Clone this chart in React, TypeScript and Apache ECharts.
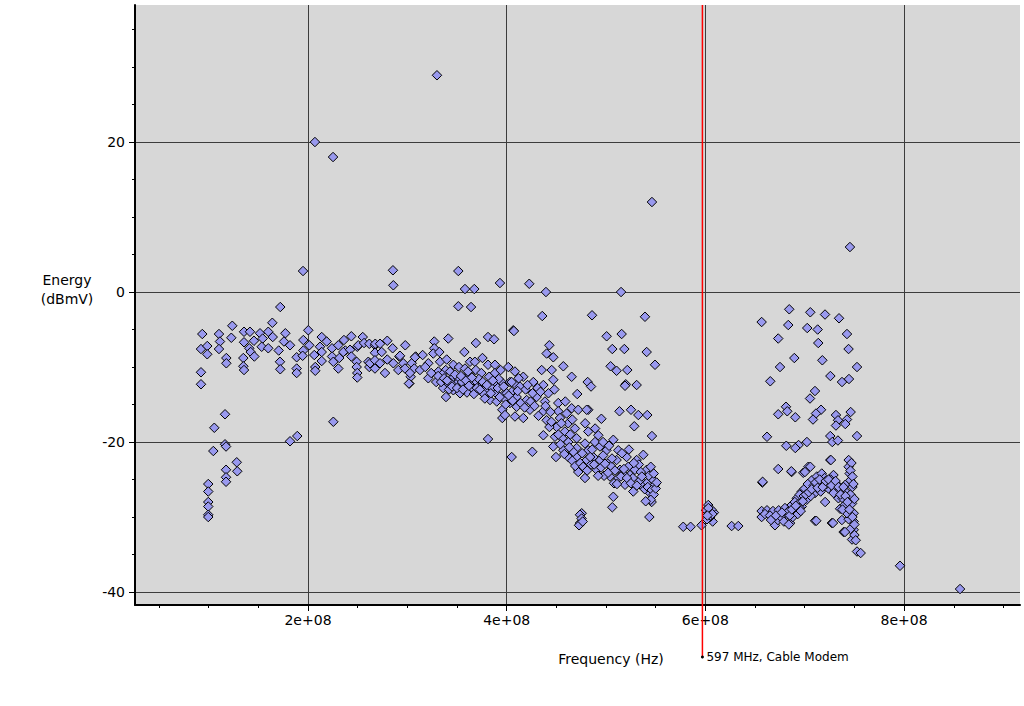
import { useEffect, useRef } from 'react';
import * as echarts from 'echarts';

// Axis ranges (Hz / dBmV)
const X_MIN = 0.2587e8;
const X_MAX = 9.1666e8;
const Y_MIN = -41.73;
const Y_MAX = 38.27;

const xMajorTicks = [2e8, 4e8, 6e8, 8e8];
const xTickLabels = ['2e+08', '4e+08', '6e+08', '8e+08'];
const xMinorTicks = [0.5e8, 1e8, 1.5e8, 2.5e8, 3e8, 3.5e8, 4.5e8, 5e8, 5.5e8, 6.5e8, 7e8, 7.5e8, 8.5e8, 9e8];
const yMajorTicks = [-40, -20, 0, 20];
const yMinorTicks = [-35, -30, -25, -15, -10, -5, 5, 10, 15, 25, 30, 35];

const markerFreqMHz = 597;
const markerLabel = '597 MHz, Cable Modem';
const xTitle = 'Frequency (Hz)';
const yTitle = ['Energy', '(dBmV)'];

// [frequency MHz, energy dBmV]
const lowBand: [number, number][] = [
  [93.6, -5.6], [92.3, -7.6], [98.6, -7.2], [98.6, -8.3], [92.3, -10.7], [92.3, -12.3],
  [99.6, -25.6], [99.6, -26.6], [99.6, -28.0], [99.6, -28.6], [99.6, -29.7], [99.6, -30.0],
  [104.7, -21.2], [105.7, -18.1],
  [110.4, -5.6], [111.4, -6.6], [110.4, -7.6],
  [116.5, -16.3], [116.5, -20.3], [117.5, -20.6], [117.5, -23.7], [117.5, -24.7], [117.5, -25.3],
  [117.8, -8.8], [117.8, -9.5],
  [123.8, -4.5], [122.8, -6.1],
  [128.3, -22.7], [128.8, -23.9],
  [135.6, -5.3], [141.6, -5.3], [135.6, -6.7], [140.9, -7.5], [142.3, -8.0], [146, -8.6],
  [134.9, -8.8], [134.9, -9.9], [135.6, -10.4], [145.6, -6.5],
  [151.7, -5.5], [154.4, -6.2], [153.4, -7.3], [160, -5.3], [164.1, -4.1], [160, -7.5], [164.5, -6.0],
  [172.1, -2.0], [170.5, -7.8], [171.8, -9.3], [172.1, -10.3], [177.2, -5.5], [175.8, -6.6], [181.9, -7.1],
  [181.9, -19.9], [189.2, -19.2],
  [188.6, -8.7], [188.6, -10.2], [188.6, -10.8], [195.3, -6.4], [195.3, -7.8], [194.6, -8.5],
  [200.3, -5.1], [201.3, -7.1], [206.3, -8.4], [207.3, -10.0], [207.3, -10.5],
  [213.8, -6.0], [212.1, -7.3], [213.8, -8.0], [213.8, -9.2], [218.8, -6.6],
  [224.2, -7.5], [224.2, -8.6], [225.5, -9.3], [225.5, -17.3],
  [230.5, -7.1], [231.5, -8.8], [230.5, -10.2], [236.2, -6.4], [237.6, -7.8], [235.5, -8.0],
  [243.6, -5.9], [242.3, -7.7], [243.6, -8.6], [249, -9.3], [249, -10.0], [249.6, -10.8], [249.6, -11.4], [249.6, -7.3], [250.6, -7.1],
  [255.1, -6.0], [256.4, -6.8], [260.7, -9.3], [261.7, -6.9], [261.7, -10.0], [262.4, -9.5],
  [267.4, -7.1], [267.4, -8.1], [267.4, -9.1], [267.4, -10.2], [267.7, -6.9],
  [272.5, -6.9], [274.2, -8.0], [272.5, -9.5], [277.5, -10.8], [279.8, -6.5], [279.8, -9.0],
  [285.2, -7.5], [285.9, -9.5], [291.9, -8.6], [290.9, -10.4], [292.6, -8.5],
  [297.9, -7.1], [295.9, -9.5], [297.6, -10.2], [302, -12.2], [303.4, -11.3], [304.4, -9.5], [308.4, -8.6], [307, -10.2],
];

const midBand: [number, number][] = [
  [307.7, -8.7], [302.6, -10.8], [301.6, -12.2], [315.4, -8.4], [321.1, -9.5], [312.7, -10.4], [321.1, -11.5],
  [327.1, -6.6], [327.1, -7.5], [326.1, -8.2], [332.2, -8.0], [332.9, -9.3], [331.2, -10.6], [332.9, -11.7],
  [339.6, -9.0], [341.2, -6.2], [338.6, -10.4], [339.6, -12.4], [338.9, -14.0],
  [346.3, -9.7], [346.3, -11.3], [346.3, -13.1], [352, -10.0], [351.3, -11.5],
  [357.4, -8.0], [358, -10.2], [358, -11.5], [358, -12.8], [363.1, -9.3], [363.1, -11.1], [364.8, -12.2],
  [369, -6.8], [368, -9.3], [369, -10.4], [369.8, -12.0], [368, -13.3],
  [375.6, -8.8], [374.5, -10.8], [375.6, -12.4],
  [381.2, -6.0], [387.3, -6.3], [381.2, -9.7], [382.3, -11.3], [379.6, -13.1], [383.2, -14.4],
  [388.2, -9.7], [388.2, -10.8], [388.9, -12.2], [389.2, -13.5], [390, -14.6],
  [393.9, -10.4], [394.9, -12.0], [396.6, -13.7], [395.6, -15.7], [395.6, -16.8],
  [401.6, -10.0], [403.3, -12.0], [405, -13.3], [403.3, -14.8],
  [408.3, -10.6], [409.4, -12.4], [410, -14.0], [408.3, -16.6],
  [318, -10.0], [324, -10.8], [329, -12.0], [335, -11.0], [343, -10.6], [349, -12.3], [355, -12.0],
  [361, -10.6], [366, -12.9], [372, -11.6], [377, -13.6], [385, -12.8], [392, -11.6], [398, -14.2],
  [360, -13.4], [353, -13.5], [344, -12.2], [336, -12.8],
  [416.7, -11.3], [405, -12.0], [400, -13.5], [413.4, -12.6], [426.8, -12.0], [435.2, -10.4], [445.3, -10.4],
  [446.9, -11.7], [436.9, -12.4], [430.1, -14.0], [420.1, -14.4], [410, -15.3], [423.4, -15.7], [416.7, -16.8], [398.3, -16.4],
  [438.5, -14.6], [436.9, -15.9], [440.2, -17.1], [436.9, -19.1],
  [451.9, -14.8], [451.9, -15.9], [453.6, -16.8], [450.3, -18.0], [448.6, -19.3], [446.9, -20.6], [449.6, -22.0],
  [460.3, -16.2], [461.9, -17.5], [458.6, -18.6], [461.9, -20.0], [457, -21.1], [461.9, -22.0],
  [465.4, -15.5], [472, -15.7], [468.7, -18.2], [470.4, -19.5], [470.4, -20.8], [470.4, -22.0],
  [482.1, -15.7], [482.1, -18.6], [478.8, -20.2], [482.1, -21.1], [480.5, -22.4], [472, -23.7], [478.8, -24.8],
  [492.2, -19.1], [488.9, -20.0], [493.9, -20.6], [487.2, -22.0], [493.9, -22.4], [490.5, -23.7],
  [500.5, -21.1], [502.3, -22.8], [504, -24.6],
  [512.3, -21.1], [510.6, -22.4], [514, -23.7], [512.3, -24.8],
  [520.7, -22.0], [522.4, -23.3], [519.1, -25.7], [524.1, -24.4],
  [530.8, -22.4], [529.1, -23.7], [527.4, -26.6], [534.2, -25.1],
  [537.5, -21.7], [540.9, -23.7], [540.9, -25.5], [544.2, -26.8], [547.6, -25.1], [549.3, -25.7], [545.9, -28.0],
  [507.3, -19.7], [472, -24.0],
  [456, -19.5], [464, -19.0], [476, -21.5], [485, -23.0], [497, -21.8], [505, -23.2], [517, -24.2], [527, -24.8],
  [533, -23.0], [537, -26.0], [543, -24.5], [548, -24.2], [498, -24.5], [508, -25.5], [486, -21.0], [467, -21.3],
  [455, -17.5], [444, -16.0], [432, -16.5], [426, -13.5], [419, -13.0], [412, -11.5], [442, -13.5], [448, -13.0],
  [459, -14.6], [466, -17.0], [479, -17.5], [489, -18.2], [497, -20.0], [503, -20.5], [516, -21.5], [523, -21.0],
  [535, -24.0], [545, -23.3],
];

const midBandDense: [number, number][] = [
  [331, -11.2], [334, -12.0], [337, -11.5], [340, -11.8], [342, -13.0], [345, -12.6], [348, -11.0], [350, -12.8],
  [354, -11.2], [356, -13.0], [359, -11.8], [362, -12.5], [365, -11.4], [367, -13.6], [370, -12.8], [373, -13.0],
  [376, -12.0], [378, -14.2], [380, -12.4], [384, -13.5], [386, -11.8], [391, -12.8], [393, -14.0], [397, -12.6],
  [399, -15.0], [402, -13.8], [406, -14.5], [411, -13.2], [414, -14.8], [418, -15.4], [421, -12.4], [424, -14.6],
  [428, -15.2], [431, -12.8], [434, -13.3], [439, -15.2], [443, -18.0], [445, -17.3], [452, -19.0], [454, -20.3],
  [458, -21.6], [463, -20.7], [466, -22.5], [469, -23.2], [474, -22.8], [477, -23.3], [481, -23.8], [484, -22.0],
  [488, -23.0], [492, -24.5], [495, -23.4], [499, -22.9], [502, -24.1], [506, -22.2], [509, -23.8], [511, -25.6],
  [515, -24.6], [518, -23.6], [521, -24.8], [525, -25.5], [528, -22.8], [531, -25.8], [536, -24.6], [539, -26.3],
  [542, -26.0], [546, -26.4], [548, -27.0], [550, -26.2], [551, -25.4],
];

const notchCluster: [number, number][] = [
  [577.7, -31.3], [585.1, -31.3], [596.1, -31.1], [602.9, -28.4], [600.6, -29.1], [608.6, -29.4],
  [607.3, -30.6], [604.9, -30.0], [601.6, -30.3], [603.5, -29.5], [606, -29.0], [626.4, -31.2], [633.1, -31.2],
  [603, -28.8], [605, -29.8], [607, -29.6], [602, -29.8],
];

const highBand: [number, number][] = [
  [656.6, -29.2], [656.6, -30.0], [662, -29.1], [668, -29.2], [670, -31.1], [673.8, -29.1], [673, -30.4],
  [680.1, -28.8], [681.8, -29.7], [685.2, -30.8], [686.9, -28.4], [692, -27.5], [692, -29.3], [697, -26.6],
  [697, -28.6], [702, -27.7], [705.4, -26.0], [707.1, -25.1], [710.4, -26.8], [712.1, -24.6], [717.1, -24.2],
  [718.8, -25.5], [720.5, -28.0], [723.9, -26.2], [728.9, -24.4], [730.6, -26.4], [733.9, -27.5], [735.6, -28.9],
  [737.4, -30.4], [740.8, -25.7], [742.5, -26.8], [744.2, -22.4], [744.2, -23.3], [745.2, -24.2], [745.9, -25.1],
  [747.6, -28.2], [749.3, -29.5], [749.3, -30.6], [749.3, -31.7], [747.6, -33.0], [744.2, -30.3], [742.5, -29.5],
  [739.1, -32.0], [752.6, -34.6], [710.4, -30.5], [727.3, -30.8], [725.7, -22.4], [686.8, -24.0], [657.3, -25.4],
  [698.5, -24.1], [703.6, -23.3],
  [660, -29.6], [665, -29.8], [676, -30.0], [679, -30.6], [683, -29.3], [689, -29.0], [690, -28.0], [694, -28.2],
  [695, -27.0], [699, -27.2], [700, -26.2], [703, -25.6], [706, -27.2], [709, -25.8], [714, -25.4], [716, -26.6],
  [720, -24.8], [722, -25.6], [726, -25.0], [732, -25.6], [735, -26.5], [738, -27.5], [740, -28.4], [746, -27.0],
  [748, -26.0], [750, -27.6], [747, -22.8], [746, -31.6], [750, -32.4], [738, -29.0], [688, -30.0], [684, -31.0],
  [695, -28.8], [698, -27.9], [701, -27.0], [704, -26.7], [707, -26.3], [711, -25.4], [713, -26.1], [715, -25.0],
  [718, -26.0], [721, -25.2], [724, -25.0], [727, -25.8], [729, -26.8], [731, -25.2], [734, -26.0], [736, -27.0],
  [739, -26.0], [741, -27.2], [743, -28.0], [745, -29.0], [748, -30.0], [750, -31.0], [746, -23.8], [748, -24.6],
  [749, -25.6], [666, -30.4], [671, -29.8], [677, -29.4], [685, -29.8], [687, -29.0], [691, -28.5], [693, -29.6], [696, -29.2],
];

const scattered: [number, number][] = [
  [195, 2.8], [207, 20.0], [225.2, 18.0], [285.9, 0.9], [285.5, 2.9],
  [329.8, 28.9], [351.3, 2.8], [358, 0.4], [367.4, 0.4], [351.3, -1.9], [364.1, -2.0], [393.2, 1.2],
  [422.7, 1.1], [439.5, 0.0], [515.1, 0.0], [435.8, -3.2], [485.9, -3.1], [539.2, -3.3], [406.6, -5.1], [407.3, -5.2],
  [500.6, -5.9], [515.7, -5.6], [546.2, 12.0], [745.5, 6.0],
  [381.2, -19.6], [405, -22.0], [425.8, -21.3],
  [442.9, -7.1], [440.2, -8.2], [446.9, -8.7], [457, -9.9], [465.4, -11.3], [471, -13.6],
  [506.3, -7.6], [518.4, -7.6], [540.9, -8.0], [549.3, -9.7], [504.6, -9.9], [510.6, -10.5], [521.4, -10.4],
  [481.5, -12.0], [484.9, -12.6], [519.8, -12.3], [519.1, -12.5], [530.8, -12.4],
  [513.5, -15.9], [525.1, -15.7], [532.5, -16.4], [541.5, -16.4], [528.4, -17.9], [546.2, -19.2], [495.3, -16.9], [480.5, -15.7],
  [475.5, -29.5], [473.8, -30.8], [473.8, -29.7], [475.4, -30.2], [472.8, -31.1], [476.5, -30.6],
  [507.3, -27.3], [506.3, -28.7], [543.6, -30.0], [545, -27.7], [539.9, -27.9],
  [656.6, -4.0], [684.4, -2.3], [705.6, -2.7], [720.4, -3.0], [734.5, -3.5], [683.4, -4.4], [702.5, -4.8],
  [713, -5.0], [673.3, -6.2], [713.6, -6.8], [742.5, -5.6], [744.1, -7.6], [689.5, -8.8], [717.7, -9.1],
  [675.1, -10.0], [752.6, -10.0], [725.8, -11.2], [744.5, -11.6], [737.5, -12.0], [665.3, -11.9], [710.3, -13.2],
  [705.3, -14.2], [681.1, -15.3], [682.4, -15.9], [673.3, -16.3], [690.5, -16.7], [716.4, -15.7], [711.3, -16.2],
  [708.3, -17.0], [731.4, -16.4], [746.2, -16.0], [733.5, -17.1], [742.5, -17.0], [731.4, -17.8], [740.8, -17.6],
  [662, -19.3], [752.6, -19.2], [725.7, -19.2], [727.7, -20.0], [733.4, -19.8], [702.2, -20.0], [693.8, -20.4],
  [690.5, -20.8], [681.4, -20.5], [726.4, -22.4], [705.6, -23.3], [700.2, -24.0], [673.3, -23.6], [686.5, -23.9],
  [657.6, -25.3], [711.6, -30.5], [728.4, -30.8], [740.5, -32.0], [751.3, -33.1], [756.3, -34.8],
  [795.9, -36.5], [856.3, -39.6],
];

const FONT = '"DejaVu Sans", sans-serif';

export default function App() {
  const ref = useRef<HTMLDivElement>(null);

  useEffect(() => {
    if (!ref.current) return;
    const chart = echarts.init(ref.current, null, { renderer: 'svg' });
    const points = [...lowBand, ...midBand, ...midBandDense, ...notchCluster, ...highBand, ...scattered].map(
      ([f, e]) => [f * 1e6, e]
    );

    const gridTop = 5;
    chart.setOption({
      animation: false,
      backgroundColor: '#ffffff',
      grid: {
        left: 135, right: 4, top: gridTop, bottom: 101,
        show: true, backgroundColor: '#d7d7d7', borderWidth: 0,
        outerBoundsMode: 'none', containLabel: false,
      },
      xAxis: [
        {
          type: 'value', min: X_MIN, max: X_MAX, position: 'bottom',
          axisLine: { show: true, onZero: false, lineStyle: { color: '#000', width: 2 } },
          axisTick: { show: true, length: 6, customValues: xMajorTicks, lineStyle: { color: '#000', width: 1 } },
          axisLabel: {
            customValues: xMajorTicks,
            formatter: (v: number) => xTickLabels[xMajorTicks.indexOf(v)] ?? '',
            color: '#000', fontSize: 14, fontFamily: FONT, margin: 8,
          },
          splitLine: { show: true, lineStyle: { color: '#3c3c3c', width: 1 } },
          minorTick: { show: false }, minorSplitLine: { show: false },
        },
        {
          type: 'value', min: X_MIN, max: X_MAX, position: 'bottom', offset: 0,
          axisLine: { show: false, onZero: false },
          axisTick: { show: true, length: 3, customValues: xMinorTicks, lineStyle: { color: '#000', width: 1 } },
          axisLabel: { show: false },
          splitLine: { show: false },
        },
      ],
      yAxis: [
        {
          type: 'value', min: Y_MIN, max: Y_MAX, position: 'left',
          axisLine: { show: true, onZero: false, lineStyle: { color: '#000', width: 2 } },
          axisTick: { show: true, length: 6, customValues: yMajorTicks, lineStyle: { color: '#000', width: 1 } },
          axisLabel: {
            customValues: yMajorTicks,
            color: '#000', fontSize: 14, fontFamily: FONT, margin: 10,
          },
          splitLine: { show: true, lineStyle: { color: '#3c3c3c', width: 1 } },
        },
        {
          type: 'value', min: Y_MIN, max: Y_MAX, position: 'left', offset: 0,
          axisLine: { show: false, onZero: false },
          axisTick: { show: true, length: 3, customValues: yMinorTicks, lineStyle: { color: '#000', width: 1 } },
          axisLabel: { show: false },
          splitLine: { show: false },
        },
      ],
      series: [
        {
          type: 'scatter',
          xAxisIndex: 0, yAxisIndex: 0,
          data: points,
          symbol: 'diamond',
          symbolSize: 9.5,
          progressive: 0,
          silent: true,
          itemStyle: { color: '#9999ee', borderColor: '#000', borderWidth: 1, opacity: 1 },
        },
      ],
    });

    const px = chart.convertToPixel({ xAxisIndex: 0 }, markerFreqMHz * 1e6) as number;
    const bottomY = 657;
    chart.setOption({
      graphic: [
        {
          type: 'line', z: 100, silent: true,
          shape: { x1: px, y1: gridTop, x2: px, y2: bottomY },
          style: { stroke: '#ff0000', lineWidth: 1.5 },
        },
        {
          type: 'circle', z: 101, silent: true,
          shape: { cx: px, cy: bottomY, r: 1.5 },
          style: { fill: '#000' },
        },
        {
          type: 'text', z: 101, silent: true, x: px + 4, y: bottomY,
          style: { text: markerLabel, fill: '#000', font: `12px ${FONT}`, align: 'left', verticalAlign: 'middle' },
        },
        {
          type: 'text', silent: true, x: 611, y: 659,
          style: { text: xTitle, fill: '#000', font: `14px ${FONT}`, align: 'center', verticalAlign: 'middle' },
        },
        {
          type: 'text', silent: true, x: 67, y: 280,
          style: { text: yTitle[0], fill: '#000', font: `14px ${FONT}`, align: 'center', verticalAlign: 'middle' },
        },
        {
          type: 'text', silent: true, x: 67, y: 299,
          style: { text: yTitle[1], fill: '#000', font: `14px ${FONT}`, align: 'center', verticalAlign: 'middle' },
        },
      ],
    });

    return () => chart.dispose();
  }, []);

  return (
    <div
      ref={ref}
      style={{ position: 'fixed', left: 0, top: 0, width: 1024, height: 706 }}
    />
  );
}
